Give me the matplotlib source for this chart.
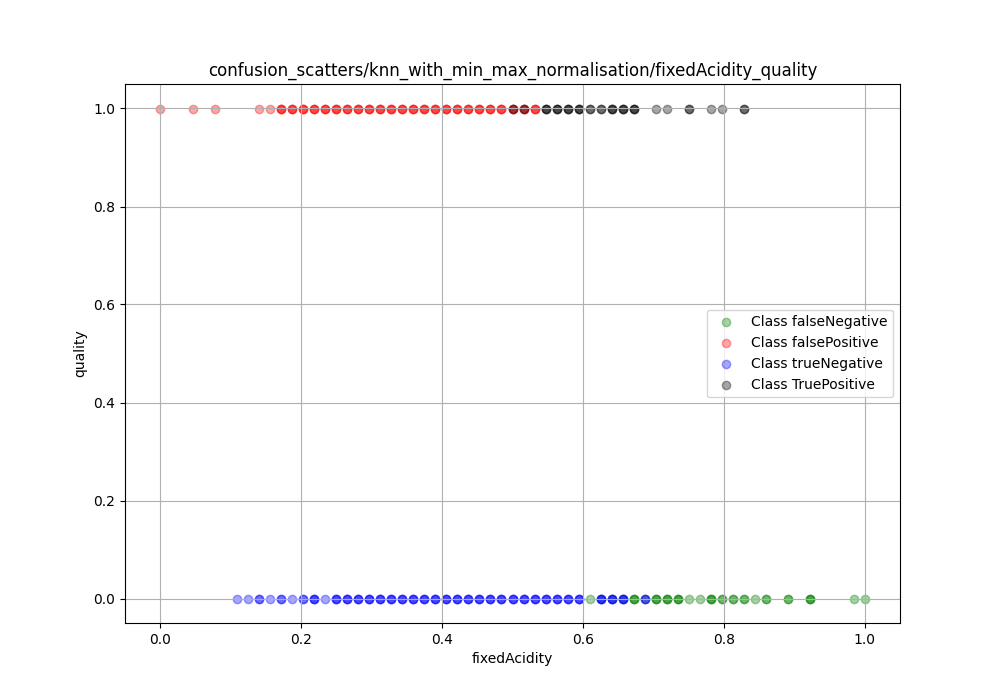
import numpy as np
import matplotlib
matplotlib.use('Agg')
import matplotlib.pyplot as plt

S = 1 / 64

# (x in steps of 1/64, repeat count)
fn_x = [39, 40, 41, 42, 43, 44, 45, 46, 47, 48, 49, 50, 51, 52, 53, 54, 55, 57, 59, 63, 64]
fn_n = [1, 1, 1, 1, 3, 1, 3, 3, 3, 1, 1, 3, 2, 2, 2, 1, 2, 2, 3, 1, 1]
fp_x = [0, 3, 5, 9, 10] + list(range(11, 35))
fp_n = [1, 1, 1, 1, 1] + [3] * 24
tn_x = [7, 8, 9, 10, 11, 12, 13, 14, 15] + list(range(16, 39)) + [40, 41, 42, 44]
tn_n = [1, 1, 2, 1, 2, 1, 2, 3, 1] + [3] * 23 + [3, 3, 3, 2]
tp_x = [32, 33, 35, 36, 37, 38, 39, 40, 41, 42, 43, 45, 46, 48, 50, 51, 53]
tp_n = [1, 1, 3, 3, 3, 3, 2, 2, 3, 3, 3, 1, 1, 2, 1, 1, 2]

def expand(xs, ns):
    return np.repeat(np.array(xs) * S, ns)

classes = [
    ('falseNegative', fn_x, fn_n, 0, 'green'),
    ('falsePositive', fp_x, fp_n, 1, 'red'),
    ('trueNegative', tn_x, tn_n, 0, 'blue'),
    ('TruePositive', tp_x, tp_n, 1, 'black'),
]

fig, ax = plt.subplots(figsize=(10, 7), dpi=100)
for name, xs, ns, yv, c in classes:
    x = expand(xs, ns)
    x = np.clip(x, 0, 1)
    ax.scatter(x, np.full(len(x), yv), color=c, alpha=0.35, label=f'Class {name}')

ax.set_title('confusion_scatters/knn_with_min_max_normalisation/fixedAcidity_quality')
ax.set_xlabel('fixedAcidity')
ax.set_ylabel('quality')
ax.grid(True)
ax.legend(loc='center right')
fig.savefig('out.png')
